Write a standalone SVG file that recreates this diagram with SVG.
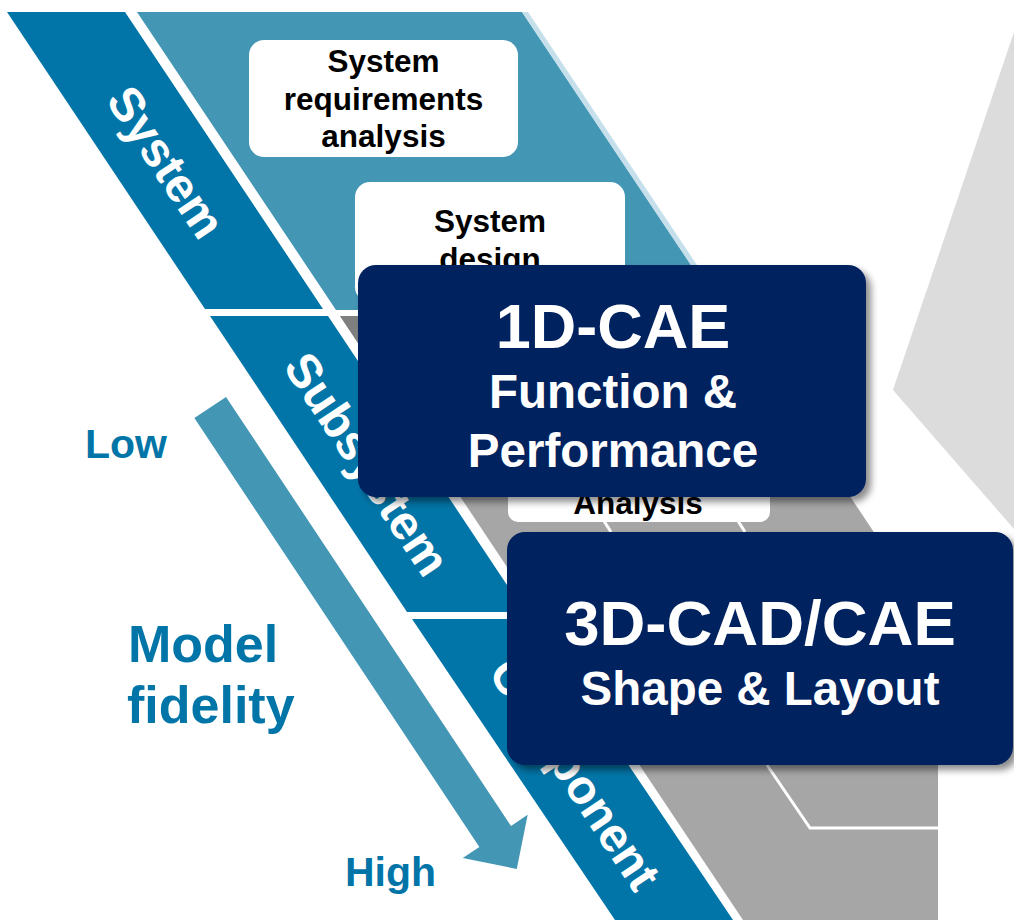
<svg xmlns="http://www.w3.org/2000/svg" width="1014" height="920" viewBox="0 0 1014 920">
<defs>
<filter id="sh" x="-10%" y="-10%" width="125%" height="130%">
<feDropShadow dx="5" dy="5" stdDeviation="3.5" flood-color="#000" flood-opacity="0.45"/>
</filter>
<style>
text{font-family:"Liberation Sans",Arial,Helvetica,sans-serif;font-weight:bold}
.band{fill:#0275a8}
.lb{fill:#4396b4}
.gray{fill:#a6a6a6}
.wbox{fill:#ffffff}
.navy{fill:#00205f}
.blk{fill:#000000;font-size:31.5px;text-anchor:middle}
.wlab{fill:#ffffff;font-size:48px;text-anchor:middle;dominant-baseline:central}
.big{fill:#ffffff;text-anchor:middle}
.side{fill:#0275a8}
.wl{stroke:#ffffff;stroke-width:3;fill:none}
</style>
</defs>
<rect width="1014" height="920" fill="#ffffff"/>
<g id="background">
<polygon points="1014,32 893,390 1014,529" fill="#dcdcdc"/>
<polygon class="lb" points="137,12 522,12 721,310 336,310"/>
<polygon points="522,12 528,12 727,310 721,310" fill="#c5e0ea"/>
<polygon class="gray" points="340,316 730,316 927,612 537,612"/>
<polygon points="340,316 730,316 760,361 370,361" fill="#7f7f7f"/>
<polygon class="gray" points="542,619 938,619 938,920 743,920"/>
<polyline class="wl" points="767,765 810,828 938,828"/>
<line class="wl" x1="604" y1="521" x2="611" y2="532"/>
<line class="wl" x1="738" y1="521" x2="745" y2="532"/>
</g>
<g id="band-system">
<polygon class="band" points="7,12 125,12 323,309 205,309"/>
<text class="wlab" transform="translate(166,162) rotate(56.3)">System</text>
</g>
<g id="band-subsystem">
<polygon class="band" points="210,316 328,316 525,612 407,612"/>
<text class="wlab" transform="translate(367,464) rotate(56.3)">Subsystem</text>
</g>
<g id="band-component">
<polygon class="band" points="412,619 530,619 733,920 615,920"/>
<text class="wlab" transform="translate(575,774) rotate(56.3)">Component</text>
</g>
<g id="node-requirements">
<rect class="wbox" x="249" y="40" width="269" height="117" rx="15"/>
<text class="blk" x="383.5" y="72">System</text>
<text class="blk" x="383.5" y="110">requirements</text>
<text class="blk" x="383.5" y="147">analysis</text>
</g>
<g id="node-design">
<rect class="wbox" x="355" y="182" width="270" height="120" rx="15"/>
<text class="blk" x="490" y="232">System</text>
<text class="blk" x="490" y="270">design</text>
</g>
<g id="node-analysis">
<rect class="wbox" x="508" y="440" width="262" height="82" rx="10"/>
<text class="blk" x="638" y="514">Analysis</text>
</g>
<g id="node-1d">
<rect class="navy" x="358" y="265" width="508" height="232" rx="18" filter="url(#sh)"/>
<text class="big" x="613" y="348" font-size="63">1D-CAE</text>
<text class="big" x="613" y="408" font-size="47.5">Function &amp;</text>
<text class="big" x="613" y="467" font-size="47.5">Performance</text>
</g>
<g id="node-3d">
<rect class="navy" x="507" y="532" width="506" height="233" rx="18" filter="url(#sh)"/>
<text class="big" x="760" y="645" font-size="63.5">3D-CAD/CAE</text>
<text class="big" x="760" y="705" font-size="47.5">Shape &amp; Layout</text>
</g>
<g id="connectors">
<polygon class="lb" transform="translate(210.2,407.5) rotate(56.4)" points="0,-19 515,-19 515,-39 554,0 515,39 515,19 0,19"/>
</g>
<g id="labels">
<text class="side" x="85" y="458" font-size="41">Low</text>
<text class="side" x="128" y="662" font-size="52">Model</text>
<text class="side" x="127" y="723" font-size="52">fidelity</text>
<text class="side" x="345" y="886" font-size="41">High</text>
</g>
</svg>
